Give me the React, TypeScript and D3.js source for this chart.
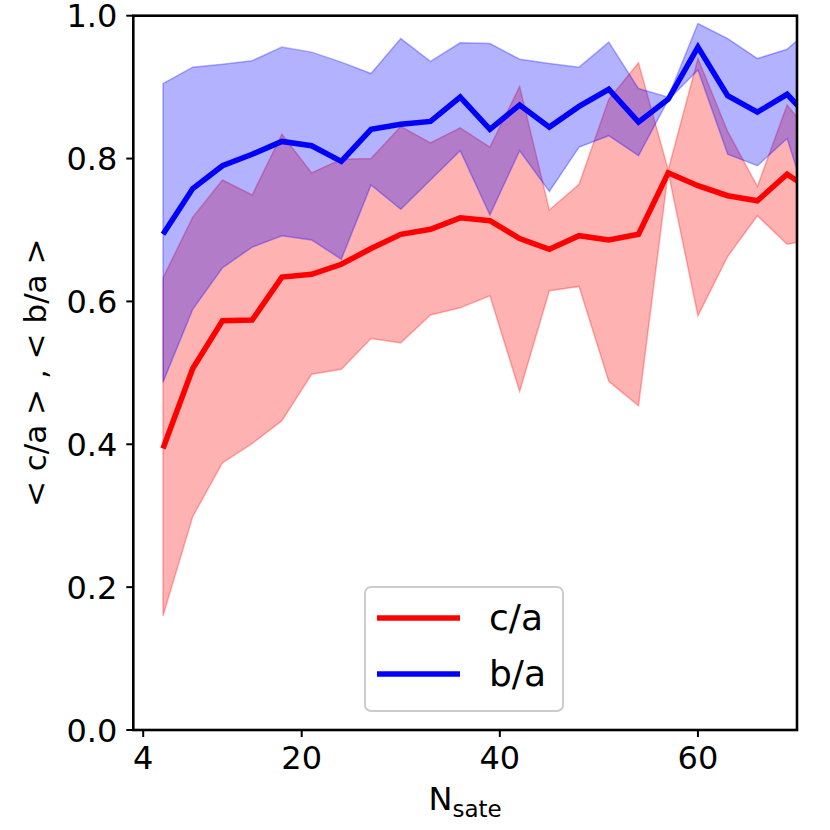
import React from "react";
import * as d3 from "d3";

const nSate = [6, 9, 12, 15, 18, 21, 24, 27, 30, 33, 36, 39, 42, 45, 48, 51, 54, 57, 60, 63, 66, 69, 72];
const baMean = [0.694, 0.758, 0.790, 0.806, 0.824, 0.818, 0.796, 0.841, 0.848, 0.852, 0.886, 0.841, 0.875, 0.844, 0.873, 0.897, 0.851, 0.883, 0.956, 0.888, 0.865, 0.890, 0.846];
const baUpper = [0.905, 0.928, 0.932, 0.937, 0.956, 0.949, 0.935, 0.919, 0.968, 0.936, 0.962, 0.961, 0.939, 0.933, 0.928, 0.963, 0.898, 0.886, 0.989, 0.968, 0.940, 0.953, 0.99];
const baLower = [0.487, 0.589, 0.647, 0.676, 0.692, 0.686, 0.659, 0.763, 0.729, 0.770, 0.811, 0.721, 0.811, 0.754, 0.816, 0.832, 0.804, 0.882, 0.924, 0.806, 0.790, 0.828, 0.697];
const caMean = [0.394, 0.506, 0.573, 0.574, 0.634, 0.638, 0.652, 0.674, 0.694, 0.701, 0.717, 0.713, 0.688, 0.673, 0.692, 0.686, 0.694, 0.780, 0.762, 0.748, 0.741, 0.778, 0.751];
const caUpper = [0.633, 0.718, 0.770, 0.749, 0.834, 0.780, 0.799, 0.800, 0.845, 0.822, 0.843, 0.816, 0.901, 0.728, 0.764, 0.883, 0.934, 0.784, 0.940, 0.838, 0.761, 0.875, 0.824];
const caLower = [0.160, 0.299, 0.374, 0.401, 0.433, 0.498, 0.505, 0.548, 0.542, 0.581, 0.591, 0.608, 0.474, 0.615, 0.621, 0.488, 0.454, 0.781, 0.580, 0.663, 0.720, 0.680, 0.687];

const xTicks = [4, 20, 40, 60];
const yTicks = [0, 0.2, 0.4, 0.6, 0.8, 1.0];
const legendItems = [
  { label: "c/a", color: "#ff0000" },
  { label: "b/a", color: "#0000ff" },
];

const W = 830;
const H = 830;
const L = 133.3;
const R = 797;
const T = 15.7;
const B = 730;
const FONT = "DejaVu Sans, sans-serif";

export default function App() {
  const x = d3.scaleLinear().domain([3, 70]).range([L, R]);
  const y = d3.scaleLinear().domain([0, 1]).range([B, T]);
  const idx = nSate.map((_, i) => i);

  const area = (lo: number[], hi: number[]) =>
    d3
      .area<number>()
      .x((i) => x(nSate[i]))
      .y0((i) => y(lo[i]))
      .y1((i) => y(hi[i]))(idx) || "";
  const line = (v: number[]) =>
    d3
      .line<number>()
      .x((i) => x(nSate[i]))
      .y((i) => y(v[i]))(idx) || "";

  return (
    <svg
      width={W}
      height={H}
      style={{ position: "absolute", left: 0, top: 0, background: "#fff" }}
      fontFamily={FONT}
    >
      <defs>
        <clipPath id="plotclip">
          <rect x={L} y={T} width={R - L} height={B - T} />
        </clipPath>
      </defs>
      <rect x={0} y={0} width={W} height={H} fill="#fff" />
      <g clipPath="url(#plotclip)">
        <path d={area(caLower, caUpper)} fill="#ff0000" fillOpacity={0.3} stroke="#ff0000" strokeOpacity={0.3} strokeWidth={1.5} />
        <path d={area(baLower, baUpper)} fill="#0000ff" fillOpacity={0.3} stroke="#0000ff" strokeOpacity={0.3} strokeWidth={1.5} />
        <path d={line(caMean)} fill="none" stroke="#ff0000" strokeWidth={5.5} strokeLinejoin="miter" />
        <path d={line(baMean)} fill="none" stroke="#0000ff" strokeWidth={5.5} strokeLinejoin="miter" />
      </g>
      {/* spines */}
      <rect x={L} y={T} width={R - L} height={B - T} fill="none" stroke="#000" strokeWidth={2.6} />
      {/* y ticks */}
      {yTicks.map((t) => (
        <g key={"y" + t}>
          <line x1={L - 7} x2={L} y1={y(t)} y2={y(t)} stroke="#000" strokeWidth={2} />
          <text x={L - 16} y={y(t)} dy="0.36em" textAnchor="end" fontSize={32} fill="#000">
            {t.toFixed(1)}
          </text>
        </g>
      ))}
      {/* x ticks */}
      {xTicks.map((t) => (
        <g key={"x" + t}>
          <line x1={x(t)} x2={x(t)} y1={B} y2={B + 7} stroke="#000" strokeWidth={2} />
          <text x={x(t)} y={769} textAnchor="middle" fontSize={32} fill="#000">
            {t}
          </text>
        </g>
      ))}
      {/* x label */}
      <text x={(L + R) / 2} y={810} textAnchor="middle" fontSize={32} fill="#000">
        N
        <tspan fontSize={23} dy={6.7}>sate</tspan>
      </text>
      {/* y label */}
      <text
        transform={`translate(46,${(T + B) / 2}) rotate(-90)`}
        textAnchor="middle"
        fontSize={31}
        fill="#000"
      >
        {"< c/a > ,  < b/a >"}
      </text>
      {/* legend */}
      <rect x={365} y={587} width={198} height={124} rx={6} fill="#fff" fillOpacity={0.8} stroke="#cccccc" strokeWidth={2} />
      {legendItems.map((it, i) => (
        <g key={it.label}>
          <line x1={377} x2={460} y1={618 + i * 56} y2={618 + i * 56} stroke={it.color} strokeWidth={5.5} />
          <text x={489} y={630 + i * 56} fontSize={36} fill="#000">
            {it.label}
          </text>
        </g>
      ))}
    </svg>
  );
}
